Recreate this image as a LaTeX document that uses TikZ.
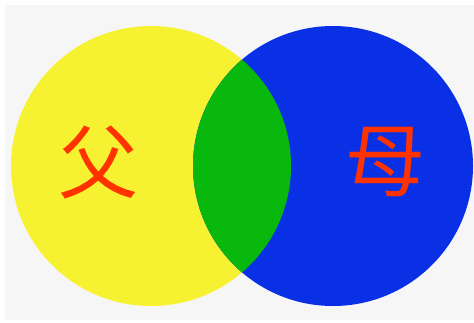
\documentclass[tikz,border=0pt]{standalone}
\usepackage{fontspec}
\newfontfamily\cjk{Noto Sans CJK SC}
\definecolor{bgc}{HTML}{F6F6F6}
\definecolor{yel}{HTML}{F6F232}
\definecolor{blu}{HTML}{0A30E6}
\definecolor{grn}{HTML}{08B80C}
\definecolor{txt}{HTML}{FF3300}
\tikzset{lbl/.style={text=txt,font=\cjk\fontsize{80}{80}\selectfont,inner sep=0pt}}
\begin{document}
\begin{tikzpicture}[x=1pt,y=-1pt]
\fill[white] (0,0) rectangle (474,322);
\useasboundingbox (0,0) rectangle (474,322);
\fill[bgc] (5,5) rectangle (474,320);
\fill[yel] (151,166) circle[radius=140];
\fill[blu] (333,166) circle[radius=140];
\begin{scope}
\clip (151,166) circle[radius=140];
\fill[grn] (333,166) circle[radius=140];
\end{scope}
\node[lbl] (fu) at (98,162) {父};
\node[lbl] (mu) at (385,162) {母};
\end{tikzpicture}
\end{document}
